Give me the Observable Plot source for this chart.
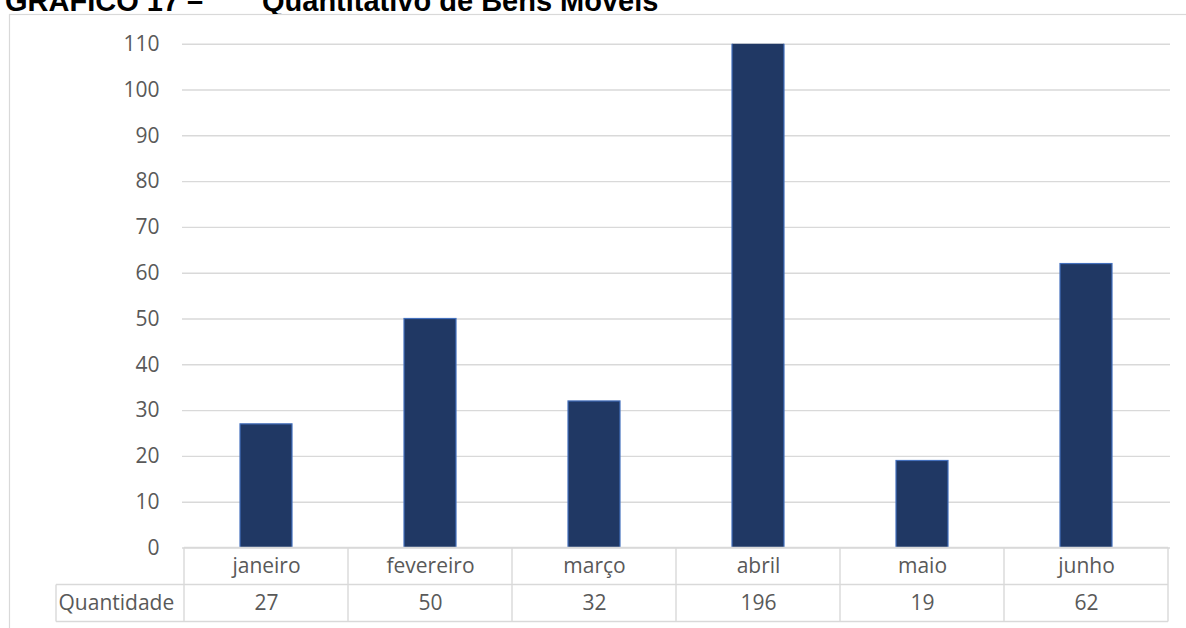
<!DOCTYPE html>
<html>
<head>
<meta charset="utf-8">
<script src="https://cdn.jsdelivr.net/npm/d3@7"></script>
<script src="https://cdn.jsdelivr.net/npm/@observablehq/plot@0.6"></script>
<style>
  html, body { margin: 0; padding: 0; background: #fff; width: 1186px; height: 628px; overflow: hidden; }
  #title { position: relative; height: 14px; overflow: hidden; font-family: "Liberation Sans", Arial, sans-serif; font-weight: bold; font-size: 29px; line-height: 33px; color: #000; }
  #title span { position: absolute; top: -15px; white-space: nowrap; }
  #chart svg { display: block; }
</style>
</head>
<body>
<div id="title"><span style="left:5px">GRÁFICO 17 –</span><span style="left:262px">Quantitativo de Bens Móveis</span></div>
<div id="chart"></div>
<script>
const months = ["janeiro", "fevereiro", "março", "abril", "maio", "junho"];
const quantities = [27, 50, 32, 196, 19, 62];
const yTicks = [0, 10, 20, 30, 40, 50, 60, 70, 80, 90, 100, 110];
const rowLabel = "Quantidade";

const data = months.map((m, i) => ({month: m, value: quantities[i]}));

const font = "'Open Sans', sans-serif";
const textColor = "#595959";
const lineColor = "#d9d9d9";

const plot = Plot.plot({
  width: 1186,
  height: 614,
  marginLeft: 182,
  marginRight: 16,
  marginTop: 29.7,
  marginBottom: 80.5,
  style: {fontFamily: font, fontSize: "21px", color: textColor, background: "transparent", overflow: "visible"},
  x: {domain: months, paddingInner: 0.68, paddingOuter: 0.34, axis: null},
  y: {domain: [0, 110], axis: null},
  marks: [
    Plot.gridY(yTicks, {stroke: lineColor, strokeOpacity: 1, strokeWidth: 1.4}),
    Plot.axisY(yTicks, {tickSize: 0, tickPadding: 23, fill: textColor, fontSize: 21, label: null}),
    Plot.barY(data, {x: "month", y: "value", fill: "#203864", stroke: "#4470bd", strokeWidth: 1.2, clip: true}),
    Plot.text(data, {x: "month", text: "month", frameAnchor: "bottom", dy: 18.5, lineAnchor: "middle", fill: textColor, fontSize: 21}),
    Plot.text(data, {x: "month", text: d => String(d.value), frameAnchor: "bottom", dy: 55.5, lineAnchor: "middle", fill: textColor, fontSize: 21}),
    Plot.text([rowLabel], {frameAnchor: "bottom-left", dx: -124, dy: 55.5, textAnchor: "start", lineAnchor: "middle", text: d => d, fill: textColor, fontSize: 21})
  ]
});

document.getElementById("chart").appendChild(plot);

// Data-table grid and outer frame, derived from the plot's own scales
const sx = plot.scale("x");
const sy = plot.scale("y");
const step = sx.step, bw = sx.bandwidth;
const y0 = sy.apply(0);
const rowH = 37;
const bounds = months.map(m => sx.apply(m) - (step - bw) / 2);
bounds.push(bounds[bounds.length - 1] + step);
const left = bounds[0], right = bounds[bounds.length - 1];
const labelLeft = left - 128;

const svg = d3.select(plot);
svg.insert("rect", ":first-child")
  .attr("x", 9.5).attr("y", 0.5).attr("width", 2000).attr("height", 2000)
  .attr("fill", "none").attr("stroke", lineColor).attr("stroke-width", 1.2);

const g = svg.append("g").attr("stroke", lineColor).attr("stroke-width", 1.4).attr("fill", "none");
bounds.forEach(bx => {
  g.append("line").attr("x1", bx).attr("x2", bx).attr("y1", y0).attr("y2", y0 + 2 * rowH);
});
g.append("line").attr("x1", left).attr("x2", right).attr("y1", y0).attr("y2", y0);
g.append("line").attr("x1", labelLeft).attr("x2", right).attr("y1", y0 + rowH).attr("y2", y0 + rowH);
g.append("line").attr("x1", labelLeft).attr("x2", right).attr("y1", y0 + 2 * rowH).attr("y2", y0 + 2 * rowH);
g.append("line").attr("x1", labelLeft).attr("x2", labelLeft).attr("y1", y0 + rowH).attr("y2", y0 + 2 * rowH);
</script>
</body>
</html>
